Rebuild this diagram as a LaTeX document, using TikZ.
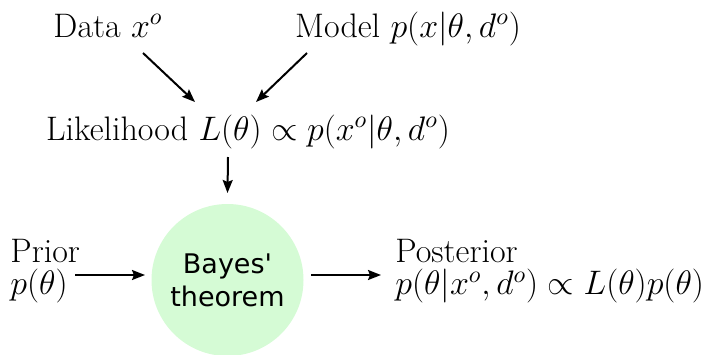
\documentclass[tikz,border=0pt]{standalone}
\usepackage{fontspec}
\usepackage{fix-cm}
\usetikzlibrary{arrows.meta}
\newfontfamily\dejavu{DejaVu Sans}
\definecolor{bayesgreen}{HTML}{D5FBD5}
\begin{document}
\begin{tikzpicture}[x=0.5pt,y=-0.5pt,
  lbl/.style={inner sep=0pt,font=\fontsize{17}{16}\selectfont},
  arr/.style={line width=1pt,-{Stealth[length=6.5pt,width=5pt,inset=1pt]}},
  bayesbox/.style={circle,fill=bayesgreen,inner sep=0pt,minimum size=76pt,align=center,
    font=\dejavu\fontsize{13.5}{16.5}\selectfont}]
\useasboundingbox (0,0) rectangle (706,354);
\node[lbl,anchor=base] (data) at (108,37) {Data $x^o$};
\node[lbl,anchor=base] (model) at (408,37) {Model $p(x|\theta,d^o)$};
\node[lbl,anchor=base] (like) at (248,140) {Likelihood $L(\theta)\propto p(x^o|\theta,d^o)$};
\node[bayesbox] (bayes) at (227.5,280) {Bayes'\\theorem};
\node[lbl,anchor=west,align=left] (prior) at (10,271) {Prior\\$p(\theta)$};
\node[lbl,anchor=west,align=left] (post) at (395,271) {Posterior\\$p(\theta|x^o,d^o)\propto L(\theta)p(\theta)$};
\coordinate (dataS) at (143,53);
\coordinate (dataE) at (195,102);
\coordinate (modS) at (307,53);
\coordinate (modE) at (256,102);
\draw[arr] (dataS) -- (dataE);
\draw[arr] (modS) -- (modE);
\draw[arr] (228,157) -- (bayes.north |- 0,193);
\draw[arr] (75,275) -- (145,275);
\draw[arr] (311,275) -- (381,275);
\end{tikzpicture}
\end{document}
